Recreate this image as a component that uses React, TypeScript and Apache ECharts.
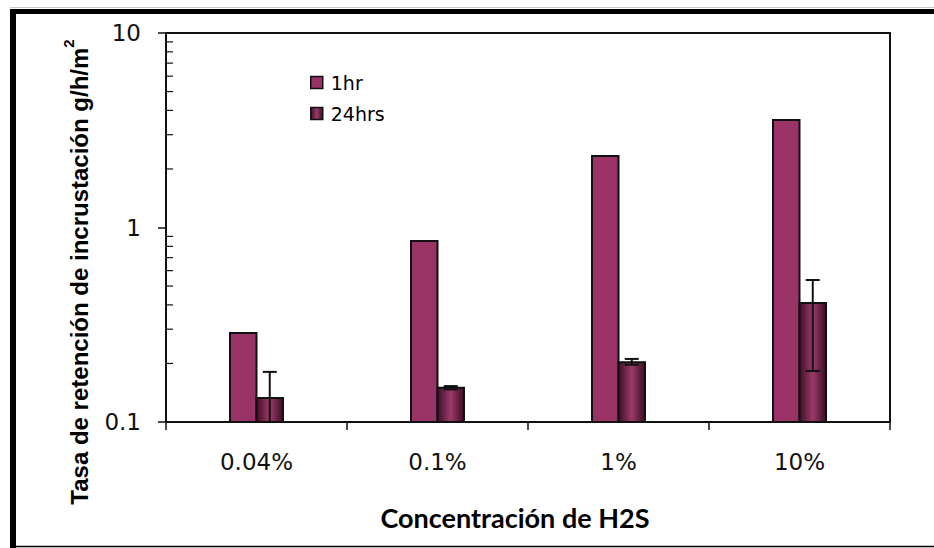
import React, { useEffect, useRef } from "react";
import * as echarts from "echarts";

const categories = ["0.04%", "0.1%", "1%", "10%"];
const seriesNames = ["1hr", "24hrs"];
const hr1Values = [0.287, 0.852, 2.33, 3.57];
const hr24Values = [0.133, 0.15, 0.203, 0.409];
const hr24ErrLow = [0.085, 0.147, 0.197, 0.183];
const hr24ErrHigh = [0.181, 0.153, 0.211, 0.537];
const minorTickValues = [0.2, 0.3, 0.4, 0.5, 0.6, 0.7, 0.8, 0.9, 2, 3, 4, 5, 6, 7, 8, 9];
const yTitle = "Tasa de retención de incrustación g/h/m";
const yTitleSup = "2";
const xTitle = "Concentración de H2S";

const FONT = '"Liberation Sans", Arial, sans-serif';
const TICK_FONT = '"DejaVu Sans", sans-serif';
const BAR_W = 26.5;

const gradient24 = new echarts.graphic.LinearGradient(0, 0, 1, 0, [
  { offset: 0, color: "#3e0f27" },
  { offset: 0.5, color: "#9c3a6a" },
  { offset: 1, color: "#3a0d24" },
]);

function barRenderer(side: number) {
  return (params: any, api: any) => {
    const cs = params.coordSys;
    const idx = api.value(0);
    const pt = api.coord([idx, api.value(1)]);
    const bottom = cs.y + cs.height;
    const x = side < 0 ? pt[0] - BAR_W : pt[0];
    return {
      type: "rect",
      shape: { x, y: pt[1], width: BAR_W, height: bottom - pt[1] },
      style: { fill: api.visual("color"), stroke: "#111", lineWidth: 2 },
    };
  };
}

export default function App() {
  const ref = useRef<HTMLDivElement>(null);
  useEffect(() => {
    if (!ref.current) return;
    const chart = echarts.init(ref.current, null, { renderer: "svg" });
    const option: any = {
      animation: false,
      backgroundColor: "#fff",
      grid: {
        left: 166,
        top: 33,
        right: 44,
        bottom: 126,
        show: true,
        borderColor: "#111",
        borderWidth: 2,
        backgroundColor: "transparent",
      },
      legend: {
        orient: "vertical",
        left: 305,
        top: 68,
        itemWidth: 12,
        itemHeight: 12,
        itemGap: 12,
        icon: "rect",
        data: seriesNames,
        itemStyle: { borderColor: "#111", borderWidth: 1.5 },
        textStyle: { fontSize: 19, fontFamily: TICK_FONT, color: "#000", padding: [0, 0, 0, 3] },
      },
      xAxis: {
        type: "category",
        data: categories,
        axisLine: { lineStyle: { color: "#111", width: 2 } },
        axisTick: { show: true, length: 8, lineStyle: { color: "#111", width: 1.5 } },
        axisLabel: { fontSize: 23, fontFamily: TICK_FONT, color: "#111", margin: 28 },
        splitLine: { show: false },
      },
      yAxis: {
        type: "log",
        logBase: 10,
        min: 0.1,
        max: 10,
        axisLine: { show: true, lineStyle: { color: "#111", width: 2 } },
        axisTick: { show: true, length: 8, lineStyle: { color: "#111", width: 1.5 } },
        axisLabel: {
          fontSize: 23,
          fontFamily: TICK_FONT,
          color: "#111",
          margin: 25,
          formatter: (v: number) => (v < 1 ? String(Number(v.toFixed(2))) : String(Math.round(v))),
        },
        splitLine: { show: false },
        minorTick: { show: false },
      },
      series: [
        {
          name: seriesNames[0],
          type: "custom",
          data: hr1Values.map((v, i) => [i, v]),
          encode: { x: 0, y: 1 },
          itemStyle: { color: "#993366", borderColor: "#111", borderWidth: 1.5 },
          renderItem: barRenderer(-1),
        },
        {
          name: seriesNames[1],
          type: "custom",
          data: hr24Values.map((v, i) => [i, v]),
          encode: { x: 0, y: 1 },
          itemStyle: { color: gradient24, borderColor: "#111", borderWidth: 1.5 },
          renderItem: barRenderer(1),
        },
        {
          name: "err",
          type: "custom",
          z: 10,
          silent: true,
          data: hr24Values.map((v, i) => [i, v, hr24ErrLow[i], hr24ErrHigh[i]]),
          encode: { x: 0, y: 1 },
          renderItem: (params: any, api: any) => {
            const cs = params.coordSys;
            const idx = api.value(0);
            const cx = api.coord([idx, api.value(1)])[0] + BAR_W / 2;
            const bottom = cs.y + cs.height;
            const yHi = api.coord([idx, api.value(3)])[1];
            const yLoRaw = api.coord([idx, api.value(2)])[1];
            const yLo = Math.min(yLoRaw, bottom);
            const st = { stroke: "#111", lineWidth: 2 };
            const children: any[] = [
              { type: "line", shape: { x1: cx, y1: yHi, x2: cx, y2: yLo }, style: st },
              { type: "line", shape: { x1: cx - 7, y1: yHi, x2: cx + 7, y2: yHi }, style: st },
            ];
            if (yLoRaw <= bottom) {
              children.push({ type: "line", shape: { x1: cx - 7, y1: yLo, x2: cx + 7, y2: yLo }, style: st });
            }
            return { type: "group", children };
          },
        },
        {
          name: "minorTicks",
          type: "custom",
          z: 10,
          silent: true,
          data: minorTickValues.map((v) => [0, v]),
          encode: { x: 0, y: 1 },
          renderItem: (params: any, api: any) => {
            const cs = params.coordSys;
            const y = api.coord([0, api.value(1)])[1];
            return {
              type: "line",
              shape: { x1: cs.x, y1: y, x2: cs.x + 7, y2: y },
              style: { stroke: "#111", lineWidth: 1.2 },
            };
          },
        },
      ],
      graphic: [
        { type: "line", shape: { x1: 10, y1: 7.5, x2: 934, y2: 7.5 }, style: { stroke: "#c8c8c8", lineWidth: 1 } },
        { type: "rect", shape: { x: 10, y: 9, width: 924, height: 5 }, style: { fill: "#000" } },
        { type: "rect", shape: { x: 10, y: 9, width: 6, height: 539 }, style: { fill: "#000" } },
        { type: "line", shape: { x1: 10, y1: 546.5, x2: 934, y2: 546.5 }, style: { stroke: "#000", lineWidth: 1.5 } },
        {
          type: "text",
          x: 76,
          y: 272,
          rotation: Math.PI / 2,
          style: {
            text: `{a|${yTitle}}{s|${yTitleSup}}`,
            align: "center",
            verticalAlign: "middle",
            rich: {
              a: { fontSize: 24, fontWeight: "bold", fontFamily: FONT, fill: "#000", lineHeight: 30, verticalAlign: "bottom" },
              s: { fontSize: 15, fontWeight: "bold", fontFamily: FONT, fill: "#000", lineHeight: 30, verticalAlign: "top" },
            },
          },
        },
        {
          type: "text",
          x: 515,
          y: 517,
          style: {
            text: xTitle,
            align: "center",
            verticalAlign: "middle",
            fontSize: 27,
            fontWeight: "bold",
            fontFamily: "Lato, sans-serif",
            fill: "#000",
          },
        },
      ],
    };
    chart.setOption(option);
    return () => chart.dispose();
  }, []);
  return (
    <div
      ref={ref}
      style={{ position: "absolute", left: 0, top: 0, width: 934, height: 548, background: "#fff" }}
    />
  );
}
